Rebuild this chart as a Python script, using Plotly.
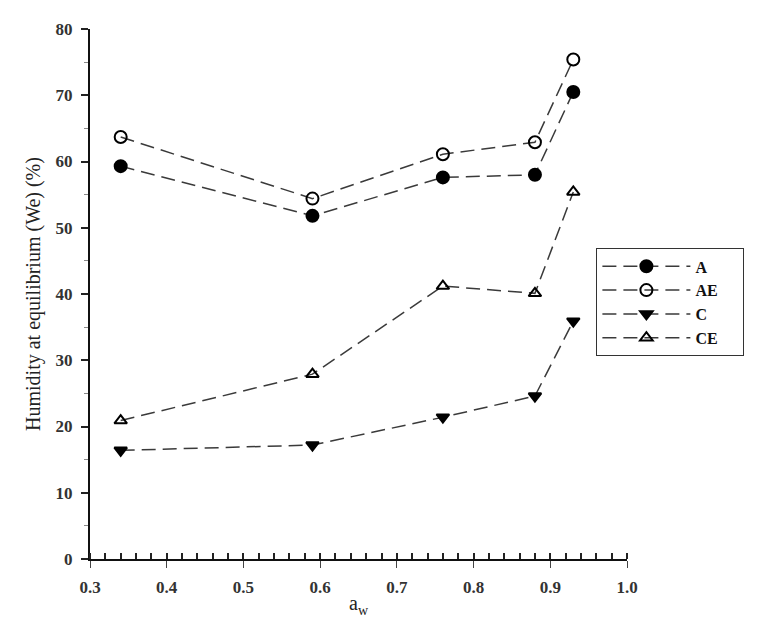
import plotly.graph_objects as go

aw = [0.34, 0.59, 0.76, 0.88, 0.93]
series_names = ["A", "AE", "C", "CE"]
A = [59.3, 51.8, 57.6, 58.0, 70.5]
AE = [63.7, 54.4, 61.1, 62.9, 75.4]
C = [16.4, 17.2, 21.4, 24.6, 35.9]
CE = [20.9, 27.9, 41.2, 40.1, 55.4]

symbols = ["circle", "circle-open", "triangle-down", "triangle-up-open"]
values = [A, AE, C, CE]

fig = go.Figure()

for name, vals, sym in zip(series_names, values, symbols):
    fig.add_trace(go.Scatter(
        x=aw, y=vals, name=name + "\u00a0" * 5,
        mode="lines+markers",
        line=dict(color="#3a3a3a", width=1.5, dash="14px,7px"),
        marker=dict(symbol=sym, size=12 if "circle" in sym else 11,
                    color="black", line=dict(color="black", width=2)),
    ))

serif = "Liberation Serif"

# page body adds 8px margin, so shift the plot area back
fig.update_layout(
    width=764, height=641,
    margin=dict(l=82, r=145, t=16, b=90),
    paper_bgcolor="white", plot_bgcolor="white",
    font=dict(family=serif, color="#222", size=17),
    legend=dict(
        x=0.943, y=0.586, xanchor="left", yanchor="top",
        bordercolor="#333", borderwidth=1, bgcolor="white",
        font=dict(family=serif, size=16, color="#111", weight="bold"),
        itemwidth=88, tracegroupgap=0,
    ),
    showlegend=True,
)

fig.update_xaxes(
    range=[0.3, 1.0], dtick=0.1, tickformat=".1f",
    showgrid=False, zeroline=False,
    showline=True, linecolor="#111", linewidth=2,
    ticks="outside", ticklen=7, tickwidth=1, tickcolor="#444",
    ticklabelstandoff=5,
    tickfont=dict(family=serif, size=17, color="#333", weight="bold"),
    minor=dict(dtick=0.02, ticks="inside", ticklen=6, tickwidth=1.5, tickcolor="#222"),
    title=dict(text="a<sub>w</sub>", font=dict(family=serif, size=20, color="#222"), standoff=0),
)
fig.update_yaxes(
    range=[0, 80], dtick=10,
    showgrid=False, zeroline=False,
    showline=True, linecolor="#111", linewidth=2,
    ticks="outside", ticklen=7, tickwidth=1.5, tickcolor="#222",
    ticklabelstandoff=5,
    tickfont=dict(family=serif, size=17, color="#333", weight="bold"),
    minor=dict(dtick=5, ticks="outside", ticklen=4, tickwidth=1, tickcolor="#888"),
    title=dict(text="Humidity at equilibrium (We) (%)", font=dict(family=serif, size=20, color="#222"), standoff=10),
)

fig.write_html("out.html")
